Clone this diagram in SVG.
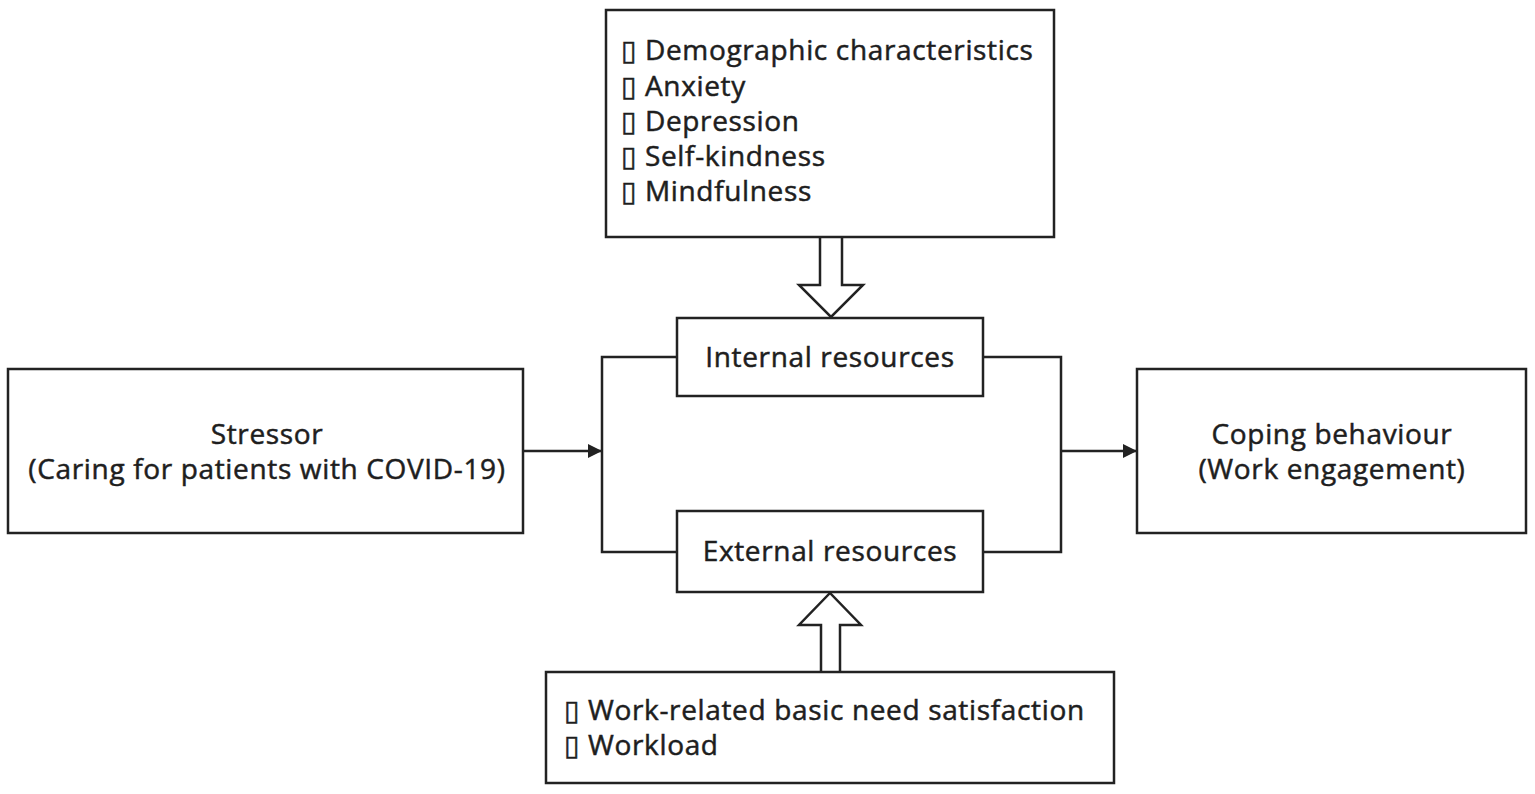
<svg xmlns="http://www.w3.org/2000/svg" width="1535" height="794" viewBox="0 0 1535 794">
<style>
.box{fill:#fff;stroke:#222;stroke-width:2.5}
.ln{fill:none;stroke:#222;stroke-width:2.5}
.t{font-family:"Open Sans","DejaVu Sans",sans-serif;font-size:28px;letter-spacing:0.65px;fill:#1e1e1e;stroke:#1e1e1e;stroke-width:0.5}
.c{text-anchor:middle}
</style>
<defs>
<marker id="ah" viewBox="0 0 10 10" refX="10" refY="5" markerWidth="20" markerHeight="14" markerUnits="userSpaceOnUse" orient="auto">
<path d="M0,0 L10,5 L0,10 z" fill="#222"/>
</marker>
</defs>
<rect width="1535" height="794" fill="#fff"/>
<g id="connectors">
<path class="ln" d="M677,357 H602 V552 H677"/>
<path class="ln" d="M983,357 H1061 V552 H983"/>
<line class="ln" x1="523" y1="451" x2="602" y2="451" marker-end="url(#ah)"/>
<line class="ln" x1="1061" y1="451" x2="1137" y2="451" marker-end="url(#ah)"/>
<path class="box" d="M820,237 V285 H799 L831,317 L863,285 H842 V237"/>
<path class="box" d="M821,672 V625 H799 L830,593 L861,625 H840 V672"/>
</g>
<g id="top-factors">
<rect class="box" x="606" y="10" width="448" height="227"/>
<text class="t" x="621" y="60">▯ Demographic characteristics</text>
<text class="t" x="621" y="96">▯ Anxiety</text>
<text class="t" x="621" y="131">▯ Depression</text>
<text class="t" x="621" y="166">▯ Self-kindness</text>
<text class="t" x="621" y="201">▯ Mindfulness</text>
</g>
<g id="internal">
<rect class="box" x="677" y="318" width="306" height="78"/>
<text class="t c" x="830" y="367">Internal resources</text>
</g>
<g id="external">
<rect class="box" x="677" y="511" width="306" height="81"/>
<text class="t c" x="830" y="561">External resources</text>
</g>
<g id="stressor">
<rect class="box" x="8" y="369" width="515" height="164"/>
<text class="t c" x="267" y="444">Stressor</text>
<text class="t c" x="267" y="479">(Caring for patients with COVID-19)</text>
</g>
<g id="coping">
<rect class="box" x="1137" y="369" width="389" height="164"/>
<text class="t c" x="1332" y="444">Coping behaviour</text>
<text class="t c" x="1332" y="479">(Work engagement)</text>
</g>
<g id="bottom-factors">
<rect class="box" x="546" y="672" width="568" height="111"/>
<text class="t" x="564" y="720">▯ Work-related basic need satisfaction</text>
<text class="t" x="564" y="755">▯ Workload</text>
</g>
</svg>
